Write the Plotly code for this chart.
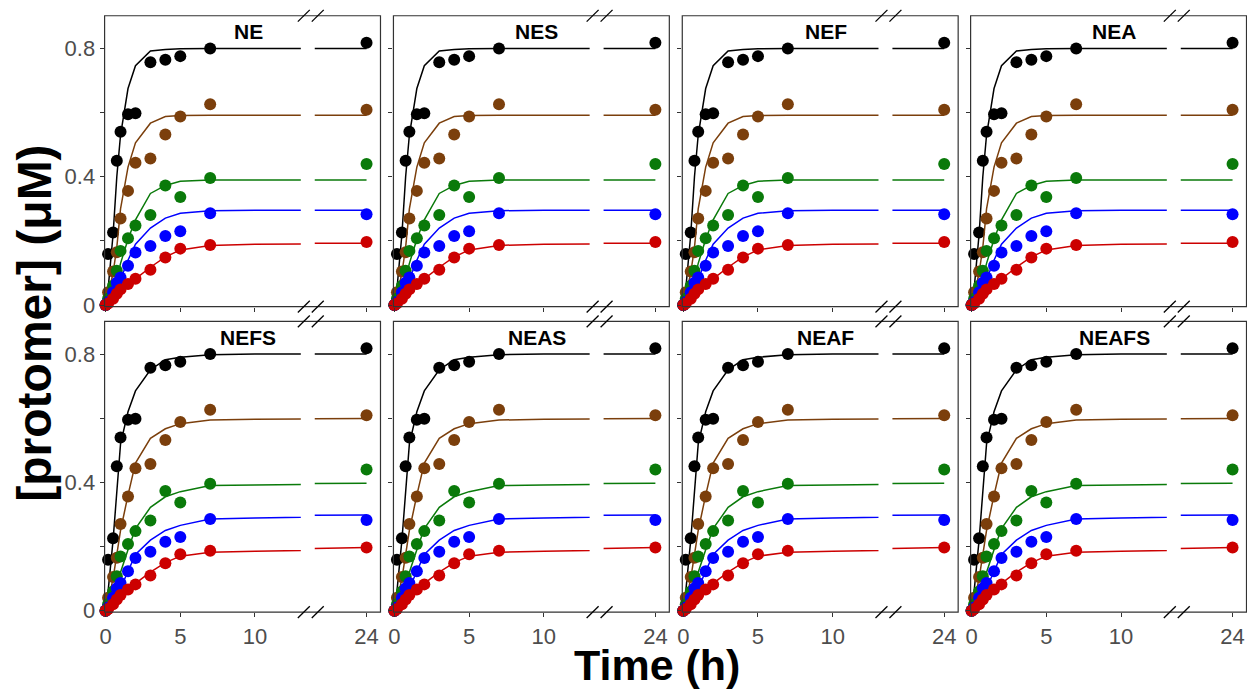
import plotly.graph_objects as go

# ---------------- data ----------------
panel_names = ["NE", "NES", "NEF", "NEA", "NEFS", "NEAS", "NEAF", "NEAFS"]
series_names = ["black", "brown", "green", "blue", "red"]
series_colors = ["#000000", "#7B3F0C", "#0A7A0A", "#0000FF", "#CC0000"]

# measured time points (h)
t_obs = [0, 0.167, 0.5, 0.75, 1, 1.5, 2, 3, 4, 5, 7, 24]
obs_black = [0, 0.159, 0.226, 0.45, 0.54, 0.595, 0.598, 0.757, 0.765, 0.776, 0.80, 0.818]
obs_brown = [0, 0.04, 0.105, 0.165, 0.27, 0.356, 0.444, 0.457, 0.532, 0.588, 0.626, 0.609]
obs_green = [0, 0.02, 0.06, 0.107, 0.169, 0.208, 0.248, 0.281, 0.373, 0.337, 0.396, 0.44]
obs_blue = [0, 0.01, 0.04, 0.07, 0.086, 0.123, 0.164, 0.184, 0.215, 0.23, 0.286, 0.283]
obs_red = [0, 0.005, 0.02, 0.035, 0.049, 0.066, 0.082, 0.110, 0.148, 0.176, 0.187, 0.197]
observed = [obs_black, obs_brown, obs_green, obs_blue, obs_red]

# model curves
t_model = [0, 0.167, 0.5, 0.75, 1, 1.5, 2, 3, 4, 5, 7, 10, 13.5, 20, 24]
# fits of the first row (NE, NES, NEF, NEA)
fitA_black = [0, 0.05, 0.22, 0.40, 0.53, 0.675, 0.746, 0.792, 0.797, 0.799, 0.80, 0.80, 0.80, 0.80, 0.80]
fitA_brown = [0, 0.03, 0.10, 0.18, 0.30, 0.43, 0.506, 0.567, 0.588, 0.591, 0.592, 0.592, 0.592, 0.592, 0.592]
fitA_green = [0, 0.01, 0.04, 0.08, 0.13, 0.205, 0.266, 0.348, 0.373, 0.386, 0.39, 0.39, 0.39, 0.39, 0.39]
fitA_blue = [0, 0.005, 0.025, 0.05, 0.08, 0.14, 0.19, 0.24, 0.271, 0.286, 0.294, 0.296, 0.296, 0.296, 0.296]
fitA_red = [0, 0.002, 0.012, 0.025, 0.04, 0.06, 0.082, 0.118, 0.15, 0.172, 0.186, 0.19, 0.192, 0.193, 0.193]
# fits of the second row (NEFS, NEAS, NEAF, NEAFS)
fitB_black = [0, 0.06, 0.22, 0.38, 0.52, 0.62, 0.685, 0.751, 0.782, 0.79, 0.798, 0.80, 0.80, 0.80, 0.80]
fitB_brown = [0, 0.03, 0.10, 0.17, 0.25, 0.36, 0.46, 0.537, 0.567, 0.583, 0.594, 0.597, 0.598, 0.598, 0.599]
fitB_green = [0, 0.01, 0.04, 0.08, 0.12, 0.19, 0.256, 0.322, 0.355, 0.371, 0.39, 0.392, 0.393, 0.396, 0.397]
fitB_blue = [0, 0.005, 0.02, 0.04, 0.07, 0.12, 0.175, 0.22, 0.25, 0.266, 0.286, 0.289, 0.292, 0.297, 0.298]
fitB_red = [0, 0.002, 0.01, 0.022, 0.04, 0.062, 0.085, 0.12, 0.15, 0.17, 0.182, 0.185, 0.187, 0.193, 0.197]
fitA = [fitA_black, fitA_brown, fitA_green, fitA_blue, fitA_red]
fitB = [fitB_black, fitB_brown, fitB_green, fitB_blue, fitB_red]
panel_fit = [fitA, fitA, fitA, fitA, fitB, fitB, fitB, fitB]

y_tickvals = [0, 0.2, 0.4, 0.6, 0.8]
y_ticktext = ["0", "", "0.4", "", "0.8"]
x_left_ticks = [0, 5, 10]
x_right_ticks = [24]

# ---------------- layout geometry (pixels) ----------------
W, H = 1247, 696
col_left = [100, 390, 680, 969.5]
row_top = [16, 326.5]
PW, PH = 277, 295.5
LEFT_W = 197      # width of the 0..13 segment
RIGHT_X0 = 211    # start of the right (24 h) segment
PX_PER_H = 15.0

FONT = "Liberation Sans, Arial, sans-serif"
TICK_COLOR = "#333333"
TEXT_COLOR = "#4D4D4D"

fig = go.Figure()
layout = dict(
    width=W, height=H,
    margin=dict(l=0, r=0, t=0, b=0),
    paper_bgcolor="white", plot_bgcolor="white",
    showlegend=False,
    font=dict(family=FONT, size=22, color=TEXT_COLOR),
)
shapes = []
annotations = []

def px2x(px):
    return px / W

def py2y(py):
    return 1 - py / H

for i, name in enumerate(panel_names):
    r, c = divmod(i, 4)
    L = col_left[c]
    T = row_top[r]
    B = T + PH
    xl = 2 * i + 1
    xr = 2 * i + 2
    yi = i + 1
    xl_name = "x" if xl == 1 else f"x{xl}"
    xr_name = f"x{xr}"
    y_name = "y" if yi == 1 else f"y{yi}"

    left_range = [-1 / PX_PER_H, (LEFT_W - 1) / PX_PER_H]
    right_range = [24 - (263 - RIGHT_X0) / PX_PER_H, 24 + (PW - 263) / PX_PER_H]

    fits = panel_fit[i]
    for s in range(len(series_names)):
        col = series_colors[s]
        obs = observed[s]
        tl = [t for t in t_obs if t <= 13]
        vl = [v for t, v in zip(t_obs, obs) if t <= 13]
        tr = [t for t in t_obs if t > 13]
        vr = [v for t, v in zip(t_obs, obs) if t > 13]
        # left segment
        fig.add_trace(go.Scatter(x=tl, y=vl, mode="markers", xaxis=xl_name, yaxis=y_name,
                                 marker=dict(color=col, size=12), cliponaxis=False, hoverinfo="skip"))
        fig.add_trace(go.Scatter(x=t_model, y=fits[s], mode="lines", xaxis=xl_name, yaxis=y_name,
                                 line=dict(color=col, width=1.5), hoverinfo="skip"))
        # right segment
        fig.add_trace(go.Scatter(x=tr, y=vr, mode="markers", xaxis=xr_name, yaxis=y_name,
                                 marker=dict(color=col, size=12), cliponaxis=False, hoverinfo="skip"))
        fig.add_trace(go.Scatter(x=t_model, y=fits[s], mode="lines", xaxis=xr_name, yaxis=y_name,
                                 line=dict(color=col, width=1.5), hoverinfo="skip"))

    ydom = [py2y(B), py2y(T)]
    common_x = dict(showgrid=False, zeroline=False, showline=False, ticks="outside",
                    ticklen=4, tickwidth=1, tickcolor=TICK_COLOR,
                    tickfont=dict(family=FONT, size=22, color=TEXT_COLOR),
                    showticklabels=(r == 1), fixedrange=True)
    layout["xaxis" if xl == 1 else f"xaxis{xl}"] = dict(
        common_x, domain=[px2x(L), px2x(L + LEFT_W)], range=left_range,
        tickmode="array", tickvals=x_left_ticks, ticktext=[str(v) for v in x_left_ticks],
        anchor=y_name)
    layout[f"xaxis{xr}"] = dict(
        common_x, domain=[px2x(L + RIGHT_X0), px2x(L + PW)], range=right_range,
        tickmode="array", tickvals=x_right_ticks, ticktext=[str(v) for v in x_right_ticks],
        anchor=y_name)
    layout["yaxis" if yi == 1 else f"yaxis{yi}"] = dict(
        domain=ydom, range=[-0.0046, (PH - 1.5) / 326.0], anchor=xl_name,
        showgrid=False, zeroline=False, showline=False, ticks="outside",
        ticklen=4, tickwidth=1, tickcolor=TICK_COLOR,
        tickmode="array", tickvals=y_tickvals, ticktext=y_ticktext,
        tickfont=dict(family=FONT, size=22, color=TEXT_COLOR),
        showticklabels=(c == 0), fixedrange=True)

    # panel frame
    shapes.append(dict(type="rect", xref="paper", yref="paper",
                       x0=px2x(L), x1=px2x(L + PW), y0=py2y(B), y1=py2y(T),
                       line=dict(color=TICK_COLOR, width=1.2), layer="above"))
    # break marks (top and bottom)
    for yb in (T, B):
        for dx in (194, 208):
            shapes.append(dict(type="line", xref="paper", yref="paper",
                               x0=px2x(L + dx), y0=py2y(yb + 6),
                               x1=px2x(L + dx + 12), y1=py2y(yb - 6),
                               line=dict(color="#000000", width=1.3), layer="above"))
    # panel title
    annotations.append(dict(text=f"<b>{name}</b>", xref="paper", yref="paper",
                            x=px2x(L + 144), y=py2y(T + 16), showarrow=False,
                            xanchor="center", yanchor="middle",
                            font=dict(family=FONT, size=21, color="#000000")))

annotations.append(dict(text="<b>Time (h)</b>", xref="paper", yref="paper",
                        x=px2x(655), y=py2y(676), showarrow=False,
                        xanchor="center", yanchor="middle",
                        font=dict(family=FONT, size=43, color="#000000")))
annotations.append(dict(text="<b>[protomer] (μM)</b>", xref="paper", yref="paper",
                        x=px2x(30), y=py2y(328), showarrow=False, textangle=-90,
                        xanchor="center", yanchor="middle",
                        font=dict(family=FONT, size=48, color="#000000")))

layout["shapes"] = shapes
layout["annotations"] = annotations
fig.update_layout(**layout)
fig.write_html("out.html", config={"displayModeBar": False},
               post_script="document.body.style.margin='0';document.body.style.overflow='hidden';")
